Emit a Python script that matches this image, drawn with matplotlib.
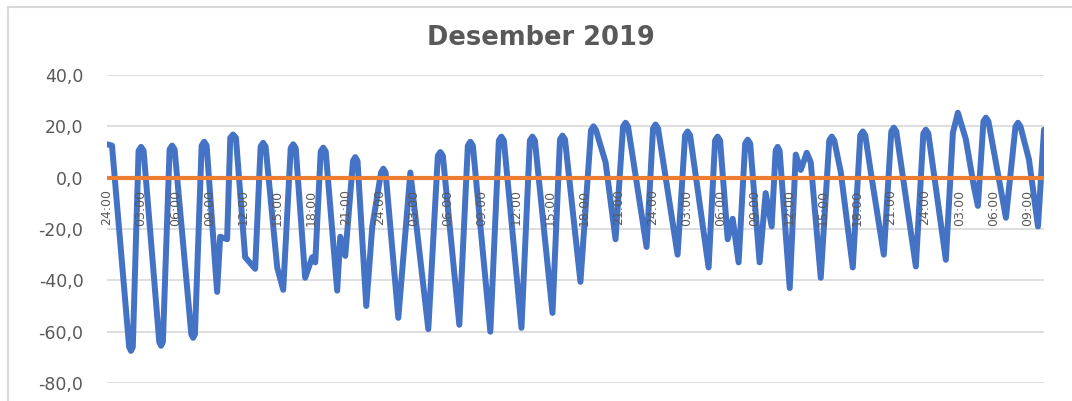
import matplotlib
matplotlib.use('Agg')
import matplotlib.pyplot as plt
from matplotlib.lines import Line2D
from matplotlib.ticker import FuncFormatter

# hours since the first reading and the value (turning points)
hours = [0.00, 0.44, 1.95, 2.11, 2.27, 2.78, 3.00, 3.22, 4.60, 4.76, 4.92, 5.51, 5.73, 5.95,
         7.42, 7.58, 7.74, 8.33, 8.55, 8.77, 9.69, 9.96, 10.57, 10.85, 11.10, 11.35, 12.16,
         13.04, 13.52, 13.74, 13.96, 14.98, 15.51, 16.17, 16.39, 16.61, 17.44, 18.06, 18.33,
         18.81, 19.03, 19.25, 20.26, 20.53, 20.97, 21.65, 21.85, 22.05, 22.82, 23.35, 24.12,
         24.32, 24.52, 25.64, 26.70, 28.28, 29.12, 29.34, 29.56, 31.01, 31.76, 31.98, 32.20,
         33.74, 34.49, 34.71, 34.93, 36.48, 37.22, 37.44, 37.66, 39.21, 39.87, 40.09, 40.31,
         41.67, 42.60, 42.82, 43.04, 43.88, 44.76, 45.42, 45.64, 45.86, 47.49, 48.06, 48.28,
         48.50, 50.22, 50.88, 51.10, 51.32, 52.95, 53.52, 53.74, 53.96, 54.63, 55.07, 55.59,
         56.17, 56.39, 56.61, 57.44, 57.97, 58.50, 58.85, 59.03, 59.20, 60.09, 60.62, 61.06,
         61.59, 61.94, 62.82, 63.57, 63.79, 64.01, 64.58, 65.64, 66.30, 66.52, 66.74, 67.22,
         68.37, 69.03, 69.25, 69.47, 71.19, 71.85, 72.07, 72.29, 73.83, 74.45, 74.89, 75.59,
         76.30, 76.65, 77.14, 77.36, 77.58, 79.12, 79.96, 80.18, 80.40, 81.15, 81.94, 82.47]
values = [13.0, 12.5, -66.0, -67.5, -66.0, 10.5, 12.0, 10.5, -64.0, -65.5, -64.0, 11.0, 12.5, 11.0,
          -61.0, -62.4, -61.0, 12.5, 14.0, 12.5, -44.5, -23.0, -24.0, 15.5, 16.8, 15.5, -31.0,
          -35.5, 12.1, 13.6, 12.1, -35.0, -43.7, 11.5, 13.0, 11.5, -39.0, -31.0, -33.0,
          10.2, 11.7, 10.2, -44.0, -23.0, -30.5, 6.5, 8.0, 6.5, -50.0, -19.0, 2.0,
          3.5, 2.0, -54.6, 2.0, -59.0, 8.5, 10.0, 8.5, -57.3, 12.5, 14.0, 12.5,
          -60.0, 14.5, 16.0, 14.5, -58.5, 14.5, 16.0, 14.5, -52.7, 14.9, 16.4, 14.9,
          -40.6, 18.5, 20.0, 18.5, 6.0, -24.0, 19.9, 21.4, 19.9, -27.0, 19.2, 20.7,
          19.2, -30.0, 16.5, 18.0, 16.5, -35.0, 14.5, 16.0, 14.5, -24.0, -16.0, -33.0,
          13.3, 14.8, 13.3, -33.0, -6.0, -19.0, 10.5, 12.0, 10.5, -43.0, 9.0, 3.0,
          9.7, 6.0, -39.0, 14.5, 16.0, 14.5, 2.3, -35.0, 16.5, 18.0, 16.5, 2.3,
          -30.0, 18.0, 19.5, 18.0, -34.6, 17.2, 18.7, 17.2, -32.0, 17.5, 25.3, 15.0,
          -3.5, -11.0, 21.9, 23.4, 21.9, -15.6, 19.9, 21.4, 19.9, 7.0, -19.0, 18.7]
baseline = [0.0, 0.0]
baseline_hours = [0.0, 82.47]

tick_hours = list(range(0, 82, 3))
tick_labels = ['24:00', '03:00', '06:00', '09:00', '12:00', '15:00', '18:00', '21:00'] * 3 + \
              ['24:00', '03:00', '06:00', '09:00']
y_ticks = [-80, -60, -40, -20, 0, 20, 40]

grey = '#595959'

fig = plt.figure(figsize=(10.72, 4.01), dpi=100)
ax = fig.add_axes([107 / 1072, 1 - 383 / 401, 937 / 1072, 308 / 401])

ax.plot(hours, values, color='#4472C4', lw=4.3, solid_joinstyle='round', solid_capstyle='round', zorder=3)
ax.plot(baseline_hours, baseline, color='#ED7D31', lw=3, zorder=4)

for s in ax.spines.values():
    s.set_visible(False)
ax.spines['bottom'].set_position(('data', 0))

ax.set_xlim(0, 82.47)
ax.set_ylim(-80, 40)
ax.set_yticks(y_ticks)
ax.yaxis.set_major_formatter(FuncFormatter(lambda v, p: f'{v:.1f}'.replace('.', ',')))
ax.set_xticks(tick_hours)
ax.set_xticklabels(tick_labels)
ax.tick_params(axis='y', length=0, pad=17, labelsize=12.5, labelcolor=grey)
ax.tick_params(axis='x', length=0, pad=8.5, labelsize=9, labelcolor=grey, labelrotation=90)
ax.yaxis.grid(True, color='#d9d9d9', lw=1.2)
ax.set_axisbelow(True)
ax.xaxis.set_zorder(5)   # time labels sit on top of the line, as in the original

fig.text(0.505, 1 - 38 / 401, 'Desember 2019', ha='center', va='center',
         fontsize=18.5, fontweight='bold', color=grey)

# chart border (top and left edge visible in the screenshot)
fig.add_artist(Line2D([8 / 1072, 1], [1 - 7 / 401] * 2, transform=fig.transFigure, color='#d9d9d9', lw=1.5))
fig.add_artist(Line2D([8 / 1072] * 2, [0, 1 - 7 / 401], transform=fig.transFigure, color='#d9d9d9', lw=1.5))

fig.savefig('out.png', dpi=100)
